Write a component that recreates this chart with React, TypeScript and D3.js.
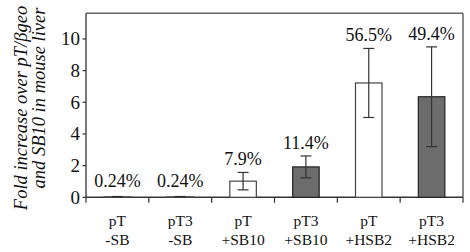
import React from "react";
import * as d3 from "d3";

const catLine1 = ["pT", "pT3", "pT", "pT3", "pT", "pT3"];
const catLine2 = ["-SB", "-SB", "+SB10", "+SB10", "+HSB2", "+HSB2"];
const values = [0.03, 0.03, 1.02, 1.92, 7.22, 6.35];
const errors = [0.02, 0.02, 0.55, 0.69, 2.18, 3.15];
const pctLabels = ["0.24%", "0.24%", "7.9%", "11.4%", "56.5%", "49.4%"];
const solid = [false, false, false, true, false, true];
const yTicks = [0, 2, 4, 6, 8, 10];
const yTitle1 = "Fold increase over pT/\u03B2geo";
const yTitle2 = "and SB10 in mouse liver";

const W = 470;
const H = 252;
const left = 86;
const right = 463;
const top = 13.3;
const bottom = 197.3;

const serif = "Times New Roman, Liberation Serif, Tinos, serif";
const txt = (size: number, italic = false): React.CSSProperties => ({
  fontFamily: serif,
  fontSize: size,
  fontStyle: italic ? "italic" : "normal",
});

export default function App() {
  const idx = values.map((_, i) => String(i));
  const x = d3
    .scaleBand<string>()
    .domain(idx)
    .range([left, right])
    .paddingInner(0.578)
    .paddingOuter(0.289);
  const y = d3.scaleLinear().domain([0, 11.62]).range([bottom, top]);
  const step = x.step();
  const bw = x.bandwidth();
  const boundaries = d3.range(values.length + 1).map((i) => left + i * step);

  return (
    <svg
      width={W}
      height={H}
      style={{ position: "absolute", left: 0, top: 0, background: "#fff" }}
    >
      <rect x={0} y={0} width={W} height={H} fill="#fff" />
      <line x1={left} x2={right} y1={top} y2={top} stroke="#666" strokeWidth={1.5} />
      <line x1={right} x2={right} y1={top} y2={bottom} stroke="#666" strokeWidth={1.5} />
      <line x1={left} x2={left} y1={top} y2={bottom} stroke="#333" strokeWidth={1.3} />
      {yTicks.map((t) => (
        <g key={t}>
          <line x1={left - 3.5} x2={left} y1={y(t)} y2={y(t)} stroke="#333" strokeWidth={1.2} />
          <text x={left - 6} y={y(t)} dy="0.33em" textAnchor="end" style={txt(19)} fill="#111">
            {t}
          </text>
        </g>
      ))}
      <line x1={left} x2={right} y1={bottom} y2={bottom} stroke="#333" strokeWidth={1.4} />
      {boundaries.map((bx, i) => (
        <line key={i} x1={bx} x2={bx} y1={bottom} y2={bottom + 5.5} stroke="#333" strokeWidth={1.2} />
      ))}
      {values.map((v, i) => {
        const bx = x(String(i))!;
        const cx = bx + bw / 2;
        const yt = y(v);
        const e = errors[i];
        const yHi = y(v + e);
        const yLo = y(Math.max(0, v - e));
        const labelY = Math.min(yHi - 7, bottom - 10.5);
        return (
          <g key={i}>
            <rect
              x={bx}
              y={yt}
              width={bw}
              height={bottom - yt}
              fill={solid[i] ? "#6c6c6c" : "#fff"}
              stroke={solid[i] ? "#222" : "#444"}
              strokeWidth={1.2}
            />
            <line x1={cx} x2={cx} y1={yHi} y2={yLo} stroke="#333" strokeWidth={1.2} />
            <line x1={cx - 5.5} x2={cx + 5.5} y1={yHi} y2={yHi} stroke="#333" strokeWidth={1.2} />
            <line x1={cx - 5.5} x2={cx + 5.5} y1={yLo} y2={yLo} stroke="#333" strokeWidth={1.2} />
            <text x={cx} y={labelY} textAnchor="middle" style={txt(18)} fill="#111">
              {pctLabels[i]}
            </text>
            <text x={cx} y={226} textAnchor="middle" style={txt(15.5)} fill="#111">
              {catLine1[i]}
            </text>
            <text x={cx} y={245} textAnchor="middle" style={txt(15.5)} fill="#111">
              {catLine2[i]}
            </text>
          </g>
        );
      })}
      <text transform="translate(27,108) rotate(-90)" textAnchor="middle" style={txt(18.5, true)} fill="#111">
        {yTitle1}
      </text>
      <text transform="translate(45,98) rotate(-90)" textAnchor="middle" style={txt(18.5, true)} fill="#111">
        {yTitle2}
      </text>
    </svg>
  );
}
